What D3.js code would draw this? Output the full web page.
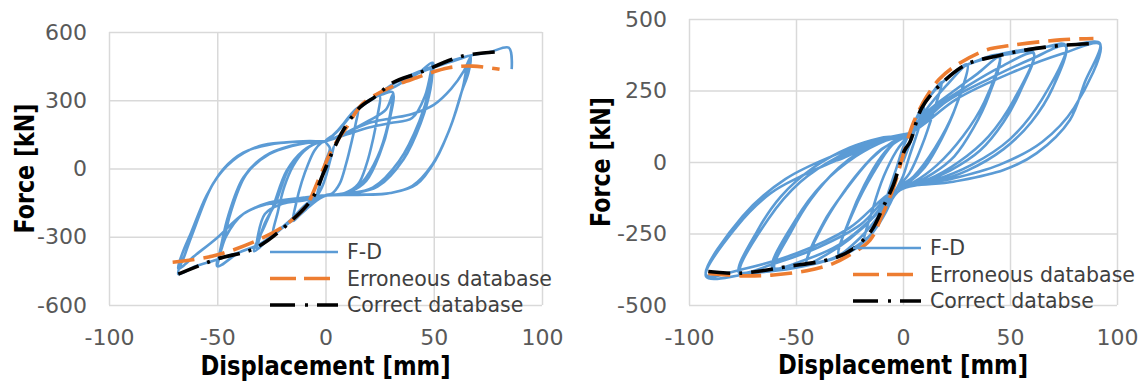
<!DOCTYPE html>
<html><head><meta charset="utf-8">
<script src="https://cdn.jsdelivr.net/npm/d3@7"></script>
<style>body{margin:0;background:#fff;}svg{display:block;font-family:"DejaVu Sans",sans-serif;}</style>
</head><body>
<script>
// ---------- DATA ----------
const xTicks = [-100,-50,0,50,100];
const yTicksLeft = [-600,-300,0,300,600];
const yTicksRight = [-500,-250,0,250,500];
const xTitle = "Displacement [mm]";
const yTitle = "Force [kN]";
const legendLeft = ["F-D","Erroneous database","Correct database"];
const legendRight = ["F-D","Erroneous database","Correct databse"];

const leftCorrect = [[-68,-464],[-50.5,-399],[-32,-348],[-15,-223],[-5.9,-128],[-1.2,-26],[3.4,77],[8,165],[15.7,267],[23.4,319],[31,377],[43.4,421],[63.4,494],[79.6,513]];
const leftErroneous = [[-70.6,-412],[-52,-385],[-32,-318],[-18,-245],[-9,-165],[-2.8,-40],[3.4,91],[9.6,179],[17,283],[28,348],[42,399],[57,443],[68,450],[80.4,436]];
const leftFD = [
[0,0],[2,50],[4,100],[2,30],[0,-40],[-2,-90],[-4,-120],[-2,-50],[0,30],[2,90],[0,120],
[4,150],[8,190],[12,235],[15,257],
[14,200],[12.5,135],[9.5,20],[6.5,-68],[3,-110],[0,-118],
[-4,-140],[-9,-180],[-13,-215],[-15,-231],
[-13.5,-150],[-11,-60],[-8,20],[-5,80],[-2,112],[0,120],
[5,160],[10,215],[16,268],[21,300],[25,320],
[24,230],[22,130],[19,20],[15,-70],[9,-108],[3,-116],[0,-120],
[-5,-145],[-12,-195],[-18,-245],[-24,-288],
[-22,-190],[-19,-80],[-15,10],[-10,75],[-5,108],[0,120],
[6,170],[12,240],[20,300],[26,325],[31,335],
[29.5,209],[25,62],[18.8,-55],[12,-100],[5,-115],[0,-120],
[-6,-150],[-15,-225],[-24,-290],[-33,-363],
[-28,-250],[-24.4,-172],[-18,-11],[-10.5,77],[-3,115],[0,120],
[10,160],[20,210],[28,260],[31,325],
[29,200],[24,50],[17,-60],[10,-105],[0,-120],
[-10,-140],[-20,-155],[-28,-200],[-32,-350],
[-28,-240],[-23,-150],[-17,0],[-10,80],[-3,115],[0,120],
[6,170],[14,260],[24,320],[34,370],[43,420],[49.5,465],
[48,355],[43.4,209],[34,33],[21.8,-84],[10,-110],[3,-116],[0,-118],
[-8,-150],[-16,-225],[-30,-330],[-40,-370],[-50,-430],
[-47,-320],[-44,-200],[-36.6,-25],[-26,63],[-15,100],[-8,113],[0,120],
[10,150],[20,180],[30,200],[40,222],[46,320],[49.5,460],
[48.5,350],[44,200],[36,40],[24,-80],[12,-110],[0,-118],
[-8,-125],[-17,-143],[-27,-157],[-38,-200],[-46,-300],[-50,-425],
[-48,-330],[-45,-210],[-38,-40],[-28,55],[-16,100],[-6,115],[0,120],
[6,170],[14,260],[23,315],[31,370],[43,420],[55,460],[63,485],[67,494],
[65,430],[63.4,355],[57,165],[49.5,20],[40,-77],[28,-111],[15,-116],[0,-118],
[-8,-150],[-16,-228],[-30,-330],[-50,-400],[-60,-430],[-68,-464],
[-65,-380],[-61,-276],[-52,-68],[-43,33],[-30.5,99],[-18,115],[-7.4,121],[0,121],
[10,160],[20,200],[30,220],[40,240],[50,280],[58,350],[64,430],[67,490],
[66,420],[63,340],[58,190],[51,40],[42,-70],[30,-108],[15,-115],[0,-118],
[-10,-128],[-26,-150],[-38,-200],[-50,-304],[-60,-380],[-68,-440],
[-66,-370],[-62,-280],[-55,-120],[-47,0],[-38,70],[-26,105],[-12,118],[0,120],
[6,170],[14,260],[23,315],[31,370],[43,425],[55,465],[67,497],[76,512],[84.7,531],[86,437]
];

const rightCorrect = [[-91,-383],[-76,-389],[-54.4,-366],[-32.6,-337],[-23,-302],[-14.6,-238],[-9.2,-156],[-4.5,-80],[0.7,40],[3.3,71],[8.7,188],[17.3,269],[29.8,342],[42.2,368],[57.8,392],[73.4,407],[90.6,415]];
const rightErroneous = [[-91,-390],[-76,-398],[-60.6,-395],[-45,-380],[-33,-356],[-26.3,-331],[-15.4,-273],[-10,-191],[-4.5,-91],[0.7,40],[5,140],[11,228],[17,290],[25,339],[39,392],[50,407],[73.4,427],[89,432]];
const rightFD = [
[0,0],[3,60],[6,120],[10,190],[7,110],[3,20],[0,-50],[-3,-95],[-6,-145],[-10,-195],[-7,-110],[-3,-20],[0,50],[3,100],
[8,175],[13,235],[18,280],
[14,170],[9,60],[3,-40],[-3,-95],
[-8,-175],[-13,-235],[-18,-275],
[-14,-160],[-9,-50],[-3,40],[3,100],
[7,165],[12,225],[18,275],[24,315],[30,341],
[25,200],[18,80],[10,-20],[3,-70],[-3,-95],
[-8,-170],[-14,-245],[-20,-290],[-25,-315],[-30,-325],
[-25,-200],[-18,-80],[-10,20],[-3,75],[3,100],
[10,175],[20,265],[30,338],
[24,180],[15,50],[5,-50],[-3,-95],
[-10,-175],[-20,-265],[-30,-322],
[-23,-170],[-14,-40],[-5,60],[3,100],
[7,165],[12,225],[18,275],[25,320],[35,355],[45,372],
[40,230],[33,120],[24,20],[14,-40],[4,-80],[-3,-95],
[-8,-170],[-14,-245],[-22,-300],[-30,-330],[-38,-348],[-45,-358],
[-38,-230],[-30,-130],[-20,-30],[-10,45],[3,100],
[12,180],[25,255],[35,310],[45,366],
[38,210],[28,90],[16,-10],[5,-70],[-3,-95],
[-12,-180],[-25,-270],[-35,-320],[-45,-355],
[-37,-210],[-27,-100],[-15,10],[-5,70],[3,100],
[7,165],[12,225],[18,275],[26,325],[38,360],[50,378],[61,383],
[55,250],[47,140],[36,40],[22,-30],[8,-75],[-3,-95],
[-8,-170],[-14,-245],[-22,-300],[-33,-340],[-46,-360],[-60,-372],
[-52,-240],[-43,-130],[-30,-20],[-20,35],[-15,52],[-20,40],[-30,8],[-32,5],[-24,30],[-12,70],[3,100],
[15,190],[30,265],[45,330],[61,380],
[52,220],[40,90],[26,0],[12,-60],[-3,-95],
[-15,-200],[-30,-290],[-45,-340],[-61,-370],
[-50,-200],[-38,-80],[-22,20],[-8,75],[3,100],
[7,165],[12,225],[18,275],[26,325],[38,362],[52,385],[65,400],[76,409],
[70,260],[60,140],[47,45],[30,-30],[12,-75],[-3,-95],
[-8,-170],[-14,-245],[-24,-305],[-36,-345],[-50,-368],[-62,-380],[-76.6,-388],
[-68,-240],[-57,-120],[-42,-20],[-25,50],[-10,85],[3,100],
[20,210],[40,290],[60,360],[76,405],
[65,220],[50,80],[32,-10],[14,-65],[-3,-95],
[-20,-220],[-40,-300],[-60,-355],[-76,-385],
[-63,-200],[-48,-70],[-30,20],[-12,75],[3,100],
[7,165],[12,225],[18,275],[26,325],[38,362],[52,387],[66,402],[80,411],[92,415],
[85,280],[78,147],[62.5,31],[47,-28],[23.5,-69],[-1.4,-98],
[-8,-170],[-14,-245],[-24,-305],[-36,-345],[-52,-372],[-70,-388],[-92,-401],
[-77.7,-226],[-62,-110],[-48,-51],[-31,7],[-15.4,66],[3.3,101],
[25,220],[50,310],[75,380],[92,412],
[80,190],[65,70],[45,-10],[22,-60],[-3,-95],
[-25,-230],[-50,-320],[-75,-375],[-92,-395],
[-75,-190],[-55,-60],[-30,30],[-10,80],[3,100]
];

// ---------- DRAW ----------
const svg = d3.select("body").append("svg").attr("width",1140).attr("height",383);
const BLUE="#5B9BD5", ORANGE="#ED7D31";

function chart(o){
  const x = d3.scaleLinear().domain([-100,100]).range([o.x0,o.x1]);
  const y = d3.scaleLinear().domain(o.yDom).range([o.y0,o.y1]);
  const g = svg.append("g");
  const gx = g.append("g").attr("transform",`translate(0,${o.y0})`)
    .call(d3.axisBottom(x).tickValues(xTicks).tickSizeInner(-(o.y0-o.y1)).tickSizeOuter(0).tickPadding(32).tickFormat(d=>String(d)));
  const gy = g.append("g").attr("transform",`translate(${o.x0},0)`)
    .call(d3.axisLeft(y).tickValues(o.yTicks).tickSizeInner(-(o.x1-o.x0)).tickSizeOuter(0).tickPadding(o.ypad).tickFormat(d=>String(d)));
  [gx,gy].forEach(a=>{
    a.select(".domain").remove();
    a.selectAll("line").attr("stroke","#d9d9d9").attr("stroke-width",1.5);
    a.selectAll("text").attr("fill","#595959").style("font-size","22px").style("font-family","DejaVu Sans");
  });
  gx.selectAll("text").attr("dy","0.36em");
  const line = d3.line().x(d=>x(d[0])).y(d=>y(d[1])).curve(d3.curveCatmullRom.alpha(0.5));
  g.append("path").datum(o.fd).attr("d",line).attr("fill","none").attr("stroke",BLUE).attr("stroke-width",2.6).attr("stroke-linejoin","round");
  g.append("path").datum(o.err).attr("d",line).attr("fill","none").attr("stroke",ORANGE).attr("stroke-width",3.6).attr("stroke-dasharray","22,9");
  g.append("path").datum(o.cor).attr("d",line).attr("fill","none").attr("stroke","#000").attr("stroke-width",3.6).attr("stroke-dasharray","22,9,3,9");
  // titles
  g.append("text").attr("x",(o.x0+o.x1)/2).attr("y",o.xtY).attr("text-anchor","middle")
    .attr("font-weight","bold").attr("font-size",26).attr("fill","#000")
    .attr("textLength",250).attr("lengthAdjust","spacingAndGlyphs").text(xTitle);
  g.append("text").attr("transform",`translate(${o.ytX},${(o.y0+o.y1)/2}) rotate(-90)`).attr("text-anchor","middle")
    .attr("font-weight","bold").attr("font-size",26).attr("fill","#000")
    .attr("textLength",130).attr("lengthAdjust","spacingAndGlyphs").text(yTitle);
  // legend
  const styles=[[BLUE,2.6,null],[ORANGE,3.6,"26,8"],["#000",3.6,"25,10,3,9"]];
  o.leg.forEach((t,i)=>{
    const ly=o.ly+i*26.5;
    const s=styles[i];
    g.append("line").attr("x1",o.lx).attr("x2",o.lx+68).attr("y1",ly).attr("y2",ly)
      .attr("stroke",s[0]).attr("stroke-width",s[1]).attr("stroke-dasharray",s[2]);
    g.append("text").attr("x",o.lx+77).attr("y",ly).attr("dy","0.36em").attr("font-size",20.5).attr("fill","#404040").text(t);
  });
}

chart({x0:109,x1:542,y0:305,y1:32,yDom:[-600,600],yTicks:yTicksLeft,ypad:22,xtY:375,ytX:34,
  fd:leftFD,err:leftErroneous,cor:leftCorrect,leg:legendLeft,lx:270,ly:252});
chart({x0:689,x1:1117,y0:305,y1:19,yDom:[-500,500],yTicks:yTicksRight,ypad:22,xtY:374,ytX:610,
  fd:rightFD,err:rightErroneous,cor:rightCorrect,leg:legendRight,lx:853,ly:248});
</script>
</body></html>
